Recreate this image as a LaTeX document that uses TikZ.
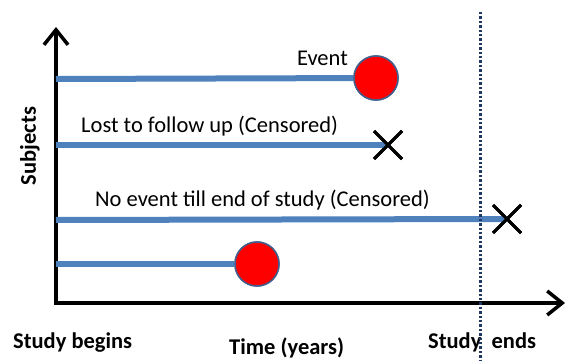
\documentclass[tikz,border=0pt]{standalone}
\usepackage{fontspec}
\setmainfont{Carlito}
\usetikzlibrary{arrows.meta,shapes.misc}
\definecolor{trackblue}{RGB}{79,129,189}
\definecolor{rimblue}{RGB}{65,95,140}
\definecolor{endnavy}{RGB}{31,56,100}
\begin{document}
\begin{tikzpicture}[x=1pt,y=-1pt,
  axis/.style={line width=3.5pt,-{Straight Barb[length=15pt,width=24pt,line width=3.5pt]}},
  track/.style={trackblue,line width=6pt},
  event/.style={circle,fill=red,draw=rimblue,line width=1.5pt,minimum size=44pt,inner sep=0pt},
  censor/.style={cross out,draw=black,line width=3pt,minimum size=25pt,inner sep=0pt},
  lbl/.style={font=\fontsize{22.5}{26}\selectfont,inner sep=0pt},
  blbl/.style={font=\fontsize{22.5}{26}\selectfont\bfseries,inner sep=0pt}]
\useasboundingbox (0,0) rectangle (566,361);
%axes
\coordinate (origin) at (56,303);
\coordinate (ytip) at (56,27);
\coordinate (xtip) at (565,303);
\draw[axis] (origin |- 0,305) -- (ytip);
\draw[axis] (54,303) -- (xtip);
%subjects
\foreach \y [count=\i] in {79,145,220,264} {\coordinate (s\i) at (56,\y);}
\node[event] (e1) at (376,78) {};
\node[censor] (c2) at (388,145) {};
\node[censor] (c3) at (507,219) {};
\node[event] (e4) at (257,264) {};
\draw[track] (s1) -- (e1);
\draw[track] (s2) -- (c2.center);
\draw[track] (s3) -- (c3.center);
\draw[track] (s4) -- (e4);
\node[event] at (e1) {};
\node[event] at (e4) {};
\node[censor] at (c2) {};
\node[censor] at (c3) {};
%labels
\node[lbl,anchor=base east] (tevent) at (348,66) {Event};
\node[lbl,anchor=base west] (tlost) at (81,133) {Lost to follow up (Censored)};
\node[lbl,anchor=base west] (tnone) at (95,207) {No event till end of study (Censored)};
\node[blbl,rotate=90] (tsubj) at (30,146) {Subjects};
\node[blbl,anchor=base west] (tbegin) at (13,348) {Study begins};
\node[blbl,anchor=base west] (ttime) at (229,354) {Time (years)};
\node[blbl,anchor=base west] (tend) at (428,348) {Study\ \ ends};
%end of study
\coordinate (top) at (480,12);
\coordinate (bot) at (480,361);
\draw[endnavy,line width=3pt,dash pattern=on 2.4pt off 2pt] (top) -- (bot);
\end{tikzpicture}
\end{document}
